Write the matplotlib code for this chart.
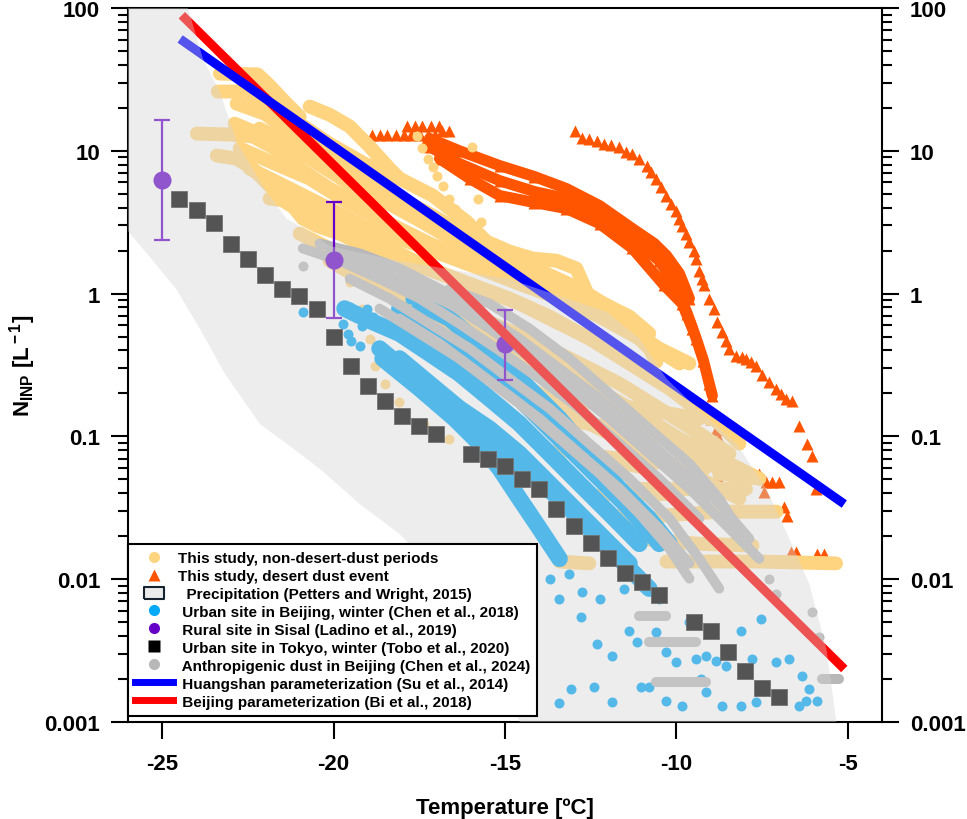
import numpy as np
import matplotlib
matplotlib.use("Agg")
import matplotlib.pyplot as plt
from matplotlib.lines import Line2D
from matplotlib.patches import Polygon
from matplotlib.ticker import FuncFormatter, LogLocator, NullLocator

plt.rcParams['font.family'] = ['Liberation Sans', 'DejaVu Sans']
plt.rcParams['font.weight'] = 'bold'
plt.rcParams['axes.unicode_minus'] = False
plt.rcParams['mathtext.fontset'] = 'custom'
plt.rcParams['mathtext.rm'] = 'Liberation Sans:bold'
plt.rcParams['mathtext.bf'] = 'Liberation Sans:bold'
plt.rcParams['mathtext.it'] = 'Liberation Sans:bold'

# ---------------- data (temperature in degC, N_INP in L-1) ----------------
# This study, non-desert-dust periods: tracks of overlapping points
yellow_tracks = [
    ([-23.32, -22.22, -21.93, -21.43, -20.99], [34.7, 34.3, 29.6, 22.1, 17.3]),
    ([-23.38, -22.59, -21.87, -20.99, -20.12, -19.10, -18.08, -17.11, -16.12, -15.54, -14.87, -14.20, -13.50, -12.92, -12.62],
     [26.0, 26.0, 21.4, 15.5, 11.2, 8.14, 6.39, 4.86, 3.19, 2.31, 1.97, 1.76, 1.70, 1.50, 1.03]),
    ([-20.70, -20.12, -19.53, -18.95, -18.37, -18.08], [20.4, 17.9, 14.8, 10.7, 7.50, 6.39]),
    ([-22.83, -22.01, -20.99, -19.83, -18.66, -17.49, -16.33, -15.16, -13.99, -12.83, -11.75, -11.28, -10.79, -10.58],
     [21.4, 18.2, 12.2, 8.14, 5.44, 3.94, 2.76, 1.91, 1.45, 1.08, 0.748, 0.542, 0.412, 0.334]),
    ([-22.16, -20.99, -19.83, -18.66, -17.49, -16.33, -15.16, -13.99, -12.83, -11.66],
     [14.3, 10.4, 6.92, 4.63, 3.25, 2.24, 1.62, 1.17, 0.851, 0.616]),
    ([-22.89, -21.87, -20.70, -19.53, -18.37, -17.20, -16.03, -14.87, -13.70, -12.54, -11.37, -10.79],
     [15.5, 12.2, 8.82, 5.89, 4.27, 3.25, 2.35, 1.70, 1.27, 0.953, 0.690, 0.525]),
    ([-22.74, -21.72, -20.70, -19.53, -18.37, -17.20, -16.03, -14.87, -13.70, -12.54, -11.37, -10.50, -9.62],
     [10.4, 8.14, 6.39, 4.27, 3.09, 2.24, 1.70, 1.27, 1.00, 0.785, 0.569, 0.412, 0.324]),
    ([-22.45, -21.28, -20.12, -19.10, -18.08, -16.91, -15.74, -14.58, -13.41, -12.24, -11.08, -9.91],
     [7.50, 5.44, 3.94, 2.95, 2.43, 1.91, 1.50, 1.17, 0.923, 0.690, 0.484, 0.324]),
    ([-23.99, -23.03, -22.36, -21.72, -20.99, -20.12, -19.24], [13.2, 13.0, 12.6, 10.4, 7.50, 5.44, 4.27]),
    ([-23.41, -22.83, -22.36, -21.87, -21.37, -20.90, -20.50, -19.83], [9.26, 8.82, 7.50, 5.70, 4.63, 3.35, 2.99, 2.63]),
    ([-21.87, -20.70, -19.53, -18.37, -17.20, -16.03, -14.87, -13.70, -12.54, -11.37, -10.20, -9.04],
     [4.63, 4.27, 3.09, 2.07, 1.50, 1.17, 0.923, 0.690, 0.484, 0.324, 0.216, 0.133]),
    ([-21.57, -20.41, -19.24, -18.08, -16.91, -15.74, -14.58, -13.41, -12.24, -11.08, -9.91, -8.75, -8.16],
     [4.63, 3.09, 2.24, 1.76, 1.38, 1.08, 0.851, 0.616, 0.447, 0.298, 0.199, 0.123, 0.0891]),
    ([-20.99, -19.83, -18.66, -17.49, -16.33, -15.16, -13.99, -12.83, -11.66, -10.50, -9.33, -8.45],
     [2.63, 1.91, 1.38, 1.05, 0.785, 0.587, 0.447, 0.324, 0.234, 0.157, 0.105, 0.0758]),
    ([-19.24, -18.08, -16.91, -15.74, -14.58, -13.41, -12.24, -11.08, -9.91, -8.75, -7.58],
     [1.50, 1.08, 0.785, 0.569, 0.412, 0.298, 0.209, 0.144, 0.0966, 0.0700, 0.0506]),
    ([-20.12, -18.95, -17.78, -16.62, -15.45, -14.29, -13.12, -11.95, -10.79, -9.62, -8.75],
     [1.70, 1.17, 0.851, 0.616, 0.447, 0.324, 0.234, 0.170, 0.113, 0.0758, 0.0595]),
    ([-17.49, -16.33, -15.16, -13.99, -12.83, -11.66, -10.50, -9.33, -8.16],
     [0.484, 0.380, 0.275, 0.199, 0.133, 0.0966, 0.0700, 0.0506, 0.0367]),
    ([-13.41, -11.08, -9.33], [0.184, 0.157, 0.133]),
    ([-13.41, -11.66, -9.62], [0.133, 0.113, 0.0891]),
    ([-13.41, -12.24, -10.79], [0.0822, 0.0700, 0.0595]),
    ([-12.24, -10.20, -9.18], [0.0723, 0.0645, 0.0595]),
    ([-8.75, -7.58], [0.0549, 0.0506]),
    ([-11.37, -9.33, -7.96], [0.0431, 0.0431, 0.0431]),
    ([-12.16, -10.20], [0.0397, 0.0397]),
    ([-10.41, -8.75, -7.08], [0.0279, 0.0297, 0.0297]),
    ([-11.95, -10.50], [0.0279, 0.0266]),
    ([-11.08, -9.33, -7.78], [0.0192, 0.0177, 0.0172]),
    ([-10.29, -7.58, -5.34], [0.0133, 0.0133, 0.0129]),
    ([-13.41, -12.54], [0.0133, 0.0129]),
]
yellow_dot_T = [-17.58, -17.41, -17.26, -17.11, -16.97, -16.82, -16.62, -16.47, -16.27, -16.03, -15.95, -15.80, -15.71,
                -19.53, -19.18, -18.95, -18.80, -18.51, -18.08, -17.35, -16.62, -15.74]
yellow_dot_N = [12.6, 10.4, 8.82, 7.75, 6.70, 5.70, 4.63, 3.94, 3.25, 2.43, 10.7, 4.63, 3.19,
                1.21, 0.785, 0.484, 0.313, 0.234, 0.175, 0.123, 0.0966, 0.0822]

# This study, desert dust event
dust_band_tracks = [
    ([-17.20, -16.33, -15.16, -14.14, -13.21, -12.24, -11.28, -10.64, -10.29, -9.91, -9.62],
     [12.2, 10.0, 7.88, 6.6, 5.44, 4.13, 2.85, 2.24, 1.85, 1.38, 0.923]),
    ([-17.20, -16.33, -15.16, -14.14, -13.21, -12.24, -11.28, -10.50, -10.06, -9.68, -9.42, -9.21, -9.04, -8.95],
     [10.7, 8.14, 6.18, 5.18, 4.63, 3.63, 2.43, 1.70, 1.17, 0.724, 0.484, 0.340, 0.234, 0.193]),
    ([-16.91, -16.03, -15.16, -14.14, -13.21, -12.24, -11.28, -10.35, -9.83, -9.53],
     [8.82, 6.39, 4.86, 4.34, 3.94, 3.09, 2.07, 1.14, 0.851, 0.569]),
]
dust_T = [-18.89, -18.66, -18.43, -18.19, -17.96, -17.73, -17.49, -17.26, -17.03,
          -17.87, -17.64, -17.41, -17.17, -16.94, -16.85, -16.62, -17.35, -17.11,
          -12.97, -12.74, -12.54, -12.33, -12.10, -11.90, -11.66, -11.46, -11.28, -11.08, -10.87, -10.73,
          -10.58, -10.44, -10.29, -10.15, -10.00, -9.91, -9.83, -9.71, -9.62, -9.50, -9.42, -9.33, -9.24,
          -9.18, -9.04, -8.89, -8.80, -8.66, -8.54, -8.45, -8.25, -8.08, -7.96, -7.81, -7.67, -7.49, -7.29,
          -7.08, -6.94, -6.79, -6.62, -6.41, -6.18, -6.03, -5.92,
          -8.98, -8.83, -8.75, -8.63, -8.54, -8.37, -8.16, -7.96, -7.78, -7.58, -7.38, -7.20, -7.00, -7.43,
          -6.85, -6.76, -6.65, -6.50, -5.89, -5.69, -8.80, -8.16]
dust_N = [12.8, 12.8, 12.8, 12.8, 12.8, 12.8, 12.8, 12.8, 12.8,
          14.8, 14.8, 14.8, 14.8, 14.8, 13.8, 13.8, 11.2, 11.2,
          13.8, 12.2, 12.0, 11.8, 11.2, 11.0, 10.7, 9.87, 9.56, 8.82, 7.88, 7.1,
          6.39, 5.6, 4.86, 4.27, 3.81, 3.35, 2.99, 2.63, 2.31, 2.0, 1.76, 1.43, 1.27,
          1.14, 0.923, 0.785, 0.637, 0.542, 0.469, 0.412, 0.368, 0.36, 0.351, 0.334, 0.313, 0.267, 0.242,
          0.216, 0.199, 0.184, 0.178, 0.119, 0.0891, 0.0734, 0.0431,
          0.133, 0.110, 0.0966, 0.0849, 0.0783, 0.0667, 0.0595, 0.0549, 0.0549, 0.0549, 0.0482, 0.0482, 0.0482, 0.0410,
          0.0322, 0.0279, 0.0156, 0.0156, 0.0151, 0.0151, 0.0531, 0.052]

# Urban site in Beijing, winter (Chen et al., 2018)
beijing_tracks = [
    ([-19.68, -18.95, -18.08, -17.20, -16.33, -15.45, -14.58, -13.70, -12.83, -11.95, -11.08],
     [0.785, 0.647, 0.525, 0.380, 0.275, 0.184, 0.123, 0.0758, 0.0467, 0.0288, 0.0177]),
    ([-18.08, -17.20, -16.33, -15.45, -14.58, -13.70, -12.83, -11.95, -11.08, -10.50],
     [0.785, 0.569, 0.412, 0.275, 0.184, 0.113, 0.0700, 0.0431, 0.0266, 0.0192]),
    ([-18.66, -17.78, -16.91, -16.03, -15.16, -14.29, -13.41, -12.54, -11.66, -10.79],
     [0.412, 0.275, 0.184, 0.123, 0.0822, 0.0549, 0.0367, 0.0226, 0.0139, 0.00859]),
    ([-18.08, -17.20, -16.33, -15.45, -14.58, -13.70, -12.83, -11.95, -11.37],
     [0.351, 0.234, 0.157, 0.113, 0.0758, 0.0467, 0.0288, 0.0177, 0.0129]),
    ([-17.49, -16.62, -15.74, -14.87, -13.99, -13.12, -12.24, -11.37, -10.50],
     [0.851, 0.668, 0.447, 0.275, 0.170, 0.0966, 0.0549, 0.0312, 0.0177]),
    ([-18.57, -17.49, -16.47, -15.74, -15.16, -14.58, -13.99, -13.41],
     [0.351, 0.216, 0.133, 0.0891, 0.0595, 0.0367, 0.0226, 0.0139]),
    ([-16.33, -15.16, -14.29, -13.41, -12.54, -11.66, -10.79, -10.20],
     [0.569, 0.351, 0.216, 0.133, 0.0758, 0.0431, 0.0266, 0.0177]),
]
beijing_dot_T = [-20.90, -19.74, -19.59, -19.48, -19.24, -19.18, -19.53, -19.04, -18.86, -17.78, -16.76,
                 -13.12, -12.74, -12.77, -12.33, -11.87, -11.37, -11.14, -10.58, -10.29, -10.00, -9.42, -9.13,
                 -8.83, -8.54, -8.10, -7.78, -7.52, -7.08, -6.71, -6.33, -6.12, -5.89, -6.21, -6.41, -7.67,
                 -8.10, -8.66, -9.83, -10.29, -11.87, -12.39, -11.02, -10.79, -9.27, -9.13,
                 -12.24, -11.52, -10.50, -9.62, -13.41, -13.70, -13.41, -13.06]
beijing_dot_N = [0.748, 0.616, 0.525, 0.469, 0.433, 0.597, 0.811, 0.785, 0.690, 0.923, 0.97,
                 0.0109, 0.00819, 0.00547, 0.00354, 0.00292, 0.00437, 0.00366, 0.0043, 0.0031, 0.00265, 0.00278, 0.00292,
                 0.00269, 0.00248, 0.00437, 0.00278, 0.0053, 0.00265, 0.00278, 0.00211, 0.00171, 0.00141, 0.00141, 0.0013, 0.00139,
                 0.0013, 0.0013, 0.0013, 0.00141, 0.00139, 0.00177, 0.00177, 0.00177, 0.00201, 0.00163,
                 0.00731, 0.00859, 0.0073, 0.005, 0.0073, 0.0101, 0.00135, 0.0017]

# Anthropigenic dust in Beijing (Chen et al., 2024)
anthro_tracks = [
    ([-20.90, -19.83, -18.66, -17.49, -16.33, -15.16, -13.99, -12.83, -11.66, -10.50, -9.33],
     [2.07, 1.70, 1.27, 0.923, 0.616, 0.399, 0.254, 0.157, 0.0891, 0.0506, 0.0266]),
    ([-20.41, -19.24, -18.08, -16.91, -15.74, -14.58, -13.41, -12.24, -11.08, -9.91, -8.75, -7.87],
     [2.24, 1.91, 1.50, 1.08, 0.724, 0.484, 0.298, 0.184, 0.105, 0.0595, 0.0338, 0.0192]),
    ([-20.12, -18.95, -17.78, -16.62, -15.45, -14.29, -13.12, -11.95, -10.79, -9.62, -8.45, -7.58],
     [1.91, 1.55, 1.17, 0.851, 0.569, 0.361, 0.223, 0.133, 0.0758, 0.0431, 0.0226, 0.0139]),
    ([-19.53, -18.37, -17.20, -16.03, -14.87, -13.70, -12.54, -11.37, -10.20, -9.33, -8.75],
     [1.27, 0.923, 0.616, 0.412, 0.254, 0.157, 0.0891, 0.0506, 0.0266, 0.0139, 0.00859]),
    ([-18.66, -17.49, -16.33, -15.16, -13.99, -12.83, -11.66, -10.50, -9.62],
     [0.785, 0.525, 0.351, 0.216, 0.133, 0.0758, 0.0431, 0.0226, 0.0129]),
    ([-18.08, -16.91, -15.74, -14.58, -13.41, -12.24, -11.08, -10.20, -9.62],
     [0.668, 0.447, 0.275, 0.170, 0.0966, 0.0549, 0.0288, 0.0164, 0.0101]),
    ([-16.62, -15.45, -14.29, -13.12, -11.95, -10.79, -9.62, -8.75, -8.02],
     [1.08, 0.851, 0.569, 0.351, 0.199, 0.113, 0.0645, 0.0367, 0.0192]),
    ([-10.79, -9.42], [0.00366, 0.00366]),
    ([-10.58, -9.13], [0.00192, 0.00192]),
    ([-5.74, -5.25], [0.00201, 0.00201]),
    ([-11.08, -10.29], [0.0055, 0.0055]),
]
anthro_dot_T = [-7.29, -7.08, -6.03, -5.83, -20.90]
anthro_dot_N = [0.0101, 0.00793, 0.00593, 0.00396, 1.57]

# Urban site in Tokyo, winter (Tobo et al., 2020)
tokyo_T = [-24.5, -24, -23.5, -23, -22.5, -22, -21.5, -21, -20.5, -20, -19.5, -19, -18.5, -18, -17.5, -17,
           -16, -15.5, -15, -14.5, -14, -13.5, -13, -12.5, -12, -11.5, -11, -10.5, -9.5, -9, -8.5, -8, -7.5, -7]
tokyo_N = [4.6, 3.85, 3.12, 2.22, 1.75, 1.35, 1.08, 0.96, 0.78, 0.50, 0.31, 0.225, 0.177, 0.14, 0.119, 0.104,
           0.0753, 0.0695, 0.062, 0.0503, 0.0428, 0.031, 0.0236, 0.018, 0.0141, 0.011, 0.00955, 0.00776,
           0.00503, 0.00434, 0.00309, 0.00227, 0.00173, 0.0015]

# Rural site in Sisal (Ladino et al., 2019)
sisal_T = [-25, -20, -15]
sisal_N = [6.25, 1.72, 0.444]
sisal_lo = [2.37, 0.675, 0.248]
sisal_hi = [16.4, 4.37, 0.767]

# parameterizations (end points)
huangshan_T = [-24.48, -5.10]
huangshan_N = [60.7, 0.0336]
bi_T = [-24.43, -5.10]
bi_N = [89.0, 0.00235]

# Precipitation range (Petters and Wright, 2015), outline
precip_T = [-24.4, -24.25, -23.81, -23.32, -22.82, -22.36, -21.95, -21.36, -20.69, -20.11, -18.07, -14.86,
            -12.03, -11.08, -10.29, -9.33, -8.25, -7.37, -6.70, -6.12, -5.62, -5.33, -5.30,
            -14.60, -14.57, -16.03, -18.07, -19.24, -20.40, -21.28, -22.15, -23.17, -23.90, -24.60, -25.36,
            -26.0, -26.5, -26.5]
precip_N = [200, 100, 44, 25.8, 11.5, 7.46, 5.14, 3.33, 2.70, 2.15, 1.69, 1.26,
            0.743, 0.484, 0.254, 0.151, 0.0891, 0.0428, 0.0191, 0.00925, 0.00324, 0.001, 0.0005,
            0.0005, 0.001, 0.00618, 0.0207, 0.0336, 0.0592, 0.0857, 0.122, 0.274, 0.565, 1.08, 1.80,
            2.74, 4.0, 200]

labels = ["This study, non-desert-dust periods",
          "This study, desert dust event",
          "  Precipitation (Petters and Wright, 2015)",
          " Urban site in Beijing, winter (Chen et al., 2018)",
          " Rural site in Sisal (Ladino et al., 2019)",
          " Urban site in Tokyo, winter (Tobo et al., 2020)",
          " Anthropigenic dust in Beijing (Chen et al., 2024)",
          " Huangshan parameterization (Su et al., 2014)",
          " Beijing parameterization (Bi et al., 2018)"]

c_yellow = '#ffd480'
c_orange = '#ff5500'
c_blue = '#00a8f8'
c_purple = '#6400c8'
c_grey = '#b8b8b8'

# ---------------- figure ----------------
fig = plt.figure(figsize=(9.67, 8.2), dpi=100)
ax = fig.add_axes([128 / 967, 1 - 723 / 820, 754 / 967, 714 / 820])
ax.set_yscale('log')

dot_lw = 7.2
for T, N in dust_band_tracks:
    ax.plot(T, N, color=c_orange, lw=8, marker='^', ms=9, mec='none',
            solid_capstyle='round', solid_joinstyle='round', zorder=0.9)
ax.plot(dust_T, dust_N, ls='none', marker='^', ms=8, color=c_orange, mec='none', zorder=0.9)

for T, N in yellow_tracks:
    ax.plot(T, N, color=c_yellow, lw=10, solid_capstyle='round', solid_joinstyle='round', zorder=1)
ax.plot(yellow_dot_T, yellow_dot_N, ls='none', marker='o', ms=dot_lw, color=c_yellow, mec='none', zorder=1)

for T, N in beijing_tracks:
    ax.plot(T, N, color=c_blue, lw=12, solid_capstyle='round', solid_joinstyle='round', zorder=1.2)
ax.plot(beijing_dot_T, beijing_dot_N, ls='none', marker='o', ms=dot_lw, color=c_blue, mec='none', zorder=1.2)

for T, N in anthro_tracks:
    ax.plot(T, N, color=c_grey, lw=dot_lw, solid_capstyle='round', solid_joinstyle='round', zorder=1.3)
ax.plot(anthro_dot_T, anthro_dot_N, ls='none', marker='o', ms=dot_lw, color=c_grey, mec='none', zorder=1.3)

ax.plot(tokyo_T, tokyo_N, ls='none', marker='s', ms=12, mfc='black', mec='#333333', mew=0.6, zorder=2)

yerr = [np.array(sisal_N) - np.array(sisal_lo), np.array(sisal_hi) - np.array(sisal_N)]
ax.errorbar(sisal_T, sisal_N, yerr=yerr, fmt='o', ms=12, color=c_purple, ecolor=c_purple,
            elinewidth=1.6, capsize=5.5, capthick=1.6, zorder=2.1)

ax.plot(bi_T, bi_N, color='#ff0000', lw=6.5, solid_capstyle='butt', zorder=2.5)
ax.plot(huangshan_T, huangshan_N, color='#0000ff', lw=6.5, solid_capstyle='butt', zorder=2.6)

# precipitation range is laid over the data as a translucent grey
ax.add_patch(Polygon(np.column_stack([precip_T, precip_N]), closed=True,
                     facecolor='#d4d4d4', edgecolor='none', alpha=0.4, zorder=4))

ax.set_xlim(-26, -4)
ax.set_ylim(1e-3, 100)
ax.set_xticks([-25, -20, -15, -10, -5])
ax.xaxis.set_minor_locator(NullLocator())
ax.yaxis.set_major_locator(LogLocator(base=10))
ax.yaxis.set_minor_locator(LogLocator(base=10, subs=np.arange(2, 10)))
ax.yaxis.set_major_formatter(FuncFormatter(lambda v, p: f'{v:g}'))
ax.tick_params(axis='both', which='major', length=12, width=1.5, direction='out', labelsize=16, pad=8)
ax.tick_params(axis='y', which='minor', length=7, width=1.5, direction='out')
ax.tick_params(axis='y', which='both', left=True, right=True, labelleft=True, labelright=True)
ax.tick_params(axis='x', which='major', pad=10)
for sp in ax.spines.values():
    sp.set_linewidth(1.5)

ax.set_xlabel('Temperature [ºC]', fontsize=16, fontweight='bold', labelpad=17)
ax.set_ylabel(r'N$_{\rm INP}$ [L$^{\rm -1}$]', fontsize=16, fontweight='bold', labelpad=5)

rect = [(-1, -0.6), (1, -0.6), (1, 0.6), (-1, 0.6), (-1, -0.6)]
handles = [
    Line2D([], [], ls='none', marker='o', ms=8, mfc=c_yellow, mec='none'),
    Line2D([], [], ls='none', marker='^', ms=9, mfc=c_orange, mec='none'),
    Line2D([], [], ls='none', marker=rect, ms=14, mfc='#ebebeb', mec='#16222e', mew=1.5),
    Line2D([], [], ls='none', marker='o', ms=8, mfc=c_blue, mec='none'),
    Line2D([], [], ls='none', marker='o', ms=8, mfc=c_purple, mec='none'),
    Line2D([], [], ls='none', marker='s', ms=8, mfc='black', mec='none'),
    Line2D([], [], ls='none', marker='o', ms=8, mfc=c_grey, mec='none'),
    Line2D([], [], color='#0000ff', lw=5),
    Line2D([], [], color='#ff0000', lw=5),
]
leg = ax.legend(handles, labels, loc='lower left', bbox_to_anchor=(0, 0.009), borderaxespad=0,
                frameon=True, fancybox=False, edgecolor='black', framealpha=1,
                prop={'size': 11, 'weight': 'bold'}, handlelength=2.5, handletextpad=0.3,
                labelspacing=0.26, borderpad=0.45)
leg.get_frame().set_linewidth(1.5)
leg.set_zorder(6)

plt.savefig('out.png', dpi=100)
